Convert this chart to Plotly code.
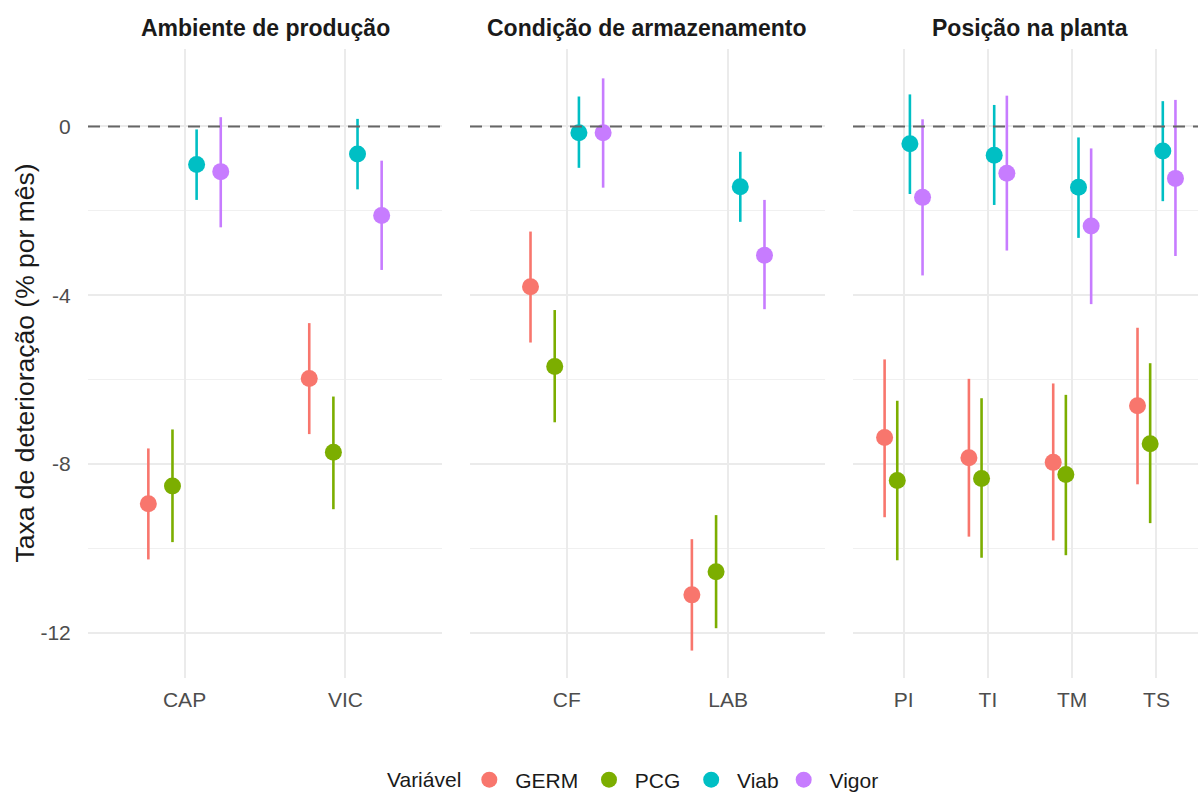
import plotly.graph_objects as go

# ---------------- data ----------------
facets = ["Ambiente de produção", "Condição de armazenamento", "Posição na planta"]
facet_categories = [["CAP", "VIC"], ["CF", "LAB"], ["PI", "TI", "TM", "TS"]]
variables = ["GERM", "PCG", "Viab", "Vigor"]

# order of values: CAP, VIC, CF, LAB, PI, TI, TM, TS
germ_est = [-8.94, -5.97, -3.80, -11.10, -7.37, -7.85, -7.96, -6.62]
germ_lo = [-10.26, -7.29, -5.12, -12.42, -9.26, -9.72, -9.81, -8.48]
germ_hi = [-7.63, -4.66, -2.49, -9.78, -5.52, -5.98, -6.09, -4.77]

pcg_est = [-8.52, -7.72, -5.69, -10.55, -8.39, -8.34, -8.25, -7.52]
pcg_lo = [-9.85, -9.07, -7.01, -11.89, -10.28, -10.22, -10.16, -9.40]
pcg_hi = [-7.18, -6.40, -4.35, -9.21, -6.50, -6.44, -6.36, -5.61]

viab_est = [-0.90, -0.65, -0.15, -1.43, -0.41, -0.68, -1.44, -0.58]
viab_lo = [-1.74, -1.49, -0.98, -2.26, -1.60, -1.86, -2.64, -1.77]
viab_hi = [-0.07, 0.18, 0.71, -0.60, 0.76, 0.51, -0.26, 0.60]

vigor_est = [-1.07, -2.11, -0.15, -3.05, -1.68, -1.11, -2.36, -1.23]
vigor_lo = [-2.39, -3.40, -1.45, -4.33, -3.53, -2.94, -4.21, -3.07]
vigor_hi = [0.22, -0.81, 1.14, -1.74, 0.17, 0.73, -0.52, 0.63]

y_ticks = [0, -4, -8, -12]
y_tick_labels = ["0", "-4", "-8", "-12"]

# ---------------- style ----------------
colors = {"GERM": "#F8766D", "PCG": "#7CAE00", "Viab": "#00BFC4", "Vigor": "#C77CFF"}
dodge = {"GERM": -0.225, "PCG": -0.075, "Viab": 0.075, "Vigor": 0.225}
series = {
    "GERM": (germ_est, germ_lo, germ_hi),
    "PCG": (pcg_est, pcg_lo, pcg_hi),
    "Viab": (viab_est, viab_lo, viab_hi),
    "Vigor": (vigor_est, vigor_lo, vigor_hi),
}

W, H = 1198, 809
FONT = "Liberation Sans, Arial, sans-serif"
ml, mr, mt, mb = 0, 0, 49, 131
panel_px = [(88, 442), (470, 825), (853, 1198)]
x_ranges = [[0.4, 2.6], [0.4, 2.6], [0.4, 0.4 + (1198 - 853) / 84.3]]
y_range = [-13.07, 1.836]
NBSP = "\u00a0"
legend_pad = {"GERM": NBSP, "PCG": NBSP, "Viab": "", "Vigor": ""}

fig = go.Figure()

start = 0
for fi, cats in enumerate(facet_categories):
    n = len(cats)
    xa = "x" if fi == 0 else f"x{fi + 1}"
    ya = "y" if fi == 0 else f"y{fi + 1}"
    for v in variables:
        est, lo, hi = series[v]
        e = est[start:start + n]
        l = lo[start:start + n]
        h = hi[start:start + n]
        xs = [i + 1 + dodge[v] for i in range(n)]
        fig.add_trace(go.Scatter(
            x=xs, y=e, mode="markers", name=NBSP + v + legend_pad[v], legendgroup=v,
            showlegend=(fi == 0), xaxis=xa, yaxis=ya,
            marker=dict(color=colors[v], size=17),
            error_y=dict(type="data", symmetric=False,
                         array=[hh - ee for hh, ee in zip(h, e)],
                         arrayminus=[ee - ll for ee, ll in zip(e, l)],
                         color=colors[v], thickness=2.6, width=0),
            hoverinfo="skip",
        ))
    start += n

layout = dict(
    width=W, height=H,
    margin=dict(l=ml, r=mr, t=mt, b=mb),
    paper_bgcolor="white", plot_bgcolor="white",
    font=dict(family=FONT, color="#4D4D4D"),
    showlegend=True,
    legend=dict(
        orientation="h", x=385 / W, xanchor="left", y=(678 - 780) / 629, yanchor="middle",
        title=dict(text="Variável", side="left", font=dict(size=21, color="#1A1A1A")),
        font=dict(size=21, color="#1A1A1A"), itemsizing="trace", tracegroupgap=0,
        itemwidth=30,
    ),
)

shapes = []
annotations = []
for fi, cats in enumerate(facet_categories):
    suffix = "" if fi == 0 else str(fi + 1)
    x0, x1 = panel_px[fi]
    layout[f"xaxis{suffix}"] = dict(
        domain=[x0 / W, x1 / W], range=x_ranges[fi], anchor=f"y{suffix}",
        tickmode="array", tickvals=list(range(1, len(cats) + 1)), ticktext=cats,
        showgrid=True, gridcolor="#EBEBEB", gridwidth=2,
        zeroline=False, showline=False,
        ticks="outside", ticklen=3, tickcolor="rgba(0,0,0,0)",
        tickfont=dict(size=21, color="#4D4D4D", family=FONT),
    )
    layout[f"yaxis{suffix}"] = dict(
        domain=[0, 1], range=y_range, anchor=f"x{suffix}",
        tickmode="array", tickvals=y_ticks, ticktext=y_tick_labels,
        showticklabels=(fi == 0),
        showgrid=True, gridcolor="#EBEBEB", gridwidth=2,
        minor=dict(tickmode="array", tickvals=[-2, -6, -10], showgrid=True,
                   gridcolor="#F0F0F0", gridwidth=1, ticks=""),
        zeroline=False, showline=False,
        ticks="outside" if fi == 0 else "", ticklen=12, tickcolor="rgba(0,0,0,0)",
        tickfont=dict(size=21, color="#4D4D4D", family=FONT),
    )
    if fi > 0:
        layout[f"yaxis{suffix}"]["matches"] = "y"
    shapes.append(dict(
        type="line", xref=f"x{suffix} domain", yref=f"y{suffix}",
        x0=0, x1=1, y0=0, y1=0,
        line=dict(color="#666666", width=2, dash="12px,8px"), layer="above",
    ))
    annotations.append(dict(
        text=f"<b>{facets[fi]}</b>", xref="paper", yref="paper",
        x=(x0 + x1) / 2 / W if fi < 2 else (853 + 1207) / 2 / W,
        y=1 + (49 - 28) / 629, xanchor="center", yanchor="middle",
        showarrow=False, font=dict(size=23, color="#1A1A1A", family=FONT),
    ))

annotations.append(dict(
    text="Taxa de deterioração (% por mês)", xref="paper", yref="paper",
    x=24 / W, y=0.5, xanchor="center", yanchor="middle", textangle=-90,
    showarrow=False, font=dict(size=26.5, color="#1A1A1A", family=FONT),
))

layout["shapes"] = shapes
layout["annotations"] = annotations
fig.update_layout(**layout)

fig.write_html("out.html")
